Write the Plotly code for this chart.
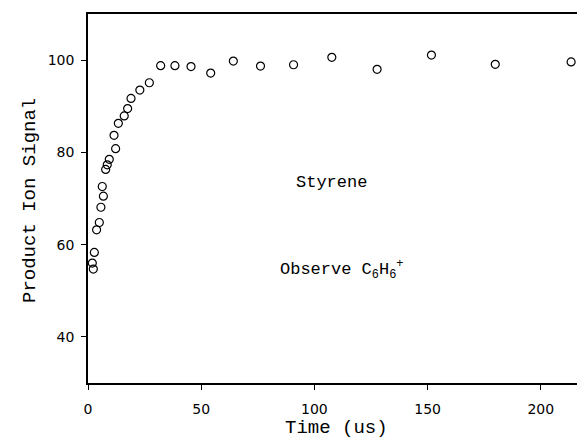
import plotly.graph_objects as go

time_us = [1.9, 2.35, 2.8, 3.8, 5.0, 5.7, 6.3, 6.8, 7.8, 8.5, 9.4, 11.5, 12.2, 13.4,
           16.0, 17.5, 19.0, 22.9, 27.1, 32.1, 38.4, 45.5, 54.2, 64.2, 76.2, 90.8,
           107.7, 127.7, 151.7, 179.9, 213.4]
signal = [56.0, 54.7, 58.3, 63.2, 64.8, 68.1, 72.6, 70.5, 76.3, 77.3, 78.5, 83.7, 80.8, 86.3,
          87.9, 89.5, 91.7, 93.5, 95.1, 98.8, 98.8, 98.6, 97.2, 99.8, 98.7, 99.0,
          100.6, 98.0, 101.1, 99.1, 99.6]

x_ticks = [0, 50, 100, 150, 200]
y_ticks = [40, 60, 80, 100]

L, R, T, B = 88, 0, 14, 57
W, H = 577, 440
plot_w = W - L - R
plot_h = H - T - B

def px_x(px):
    return (px - L) / plot_w

def px_y(py):
    return (H - B - py) / plot_h

fig = go.Figure()
fig.add_trace(go.Scatter(
    x=time_us, y=signal, mode="markers",
    marker=dict(symbol="circle-open", size=8, color="black", line=dict(width=1.2, color="black")),
    showlegend=False, cliponaxis=False,
))

tick_font = dict(family="DejaVu Sans", size=14, color="black")
title_font = dict(family="Liberation Mono", size=19, color="black")
label_font = dict(family="Liberation Mono", size=17, color="black")

fig.update_layout(
    width=W, height=H,
    margin=dict(l=L, r=R, t=T, b=B),
    paper_bgcolor="white", plot_bgcolor="white",
    xaxis=dict(range=[0, 216], tickvals=x_ticks, ticks="outside", ticklen=5, tickwidth=1,
               tickcolor="black", showline=True, linecolor="black", linewidth=1.5,
               mirror=True, showgrid=False, zeroline=False, tickfont=tick_font,
               ticklabelstandoff=7),
    yaxis=dict(range=[30, 110], tickvals=y_ticks, ticks="outside", ticklen=5, tickwidth=1,
               tickcolor="black", showline=True, linecolor="black", linewidth=1.5,
               showgrid=False, zeroline=False, tickfont=tick_font,
               ticklabelstandoff=4),
    annotations=[
        dict(text="Product Ion Signal", x=px_x(30), y=px_y(201), xref="paper", yref="paper",
             xanchor="center", yanchor="middle", textangle=-90, showarrow=False, font=title_font),
        dict(text="Time (us)", x=px_x(336), y=px_y(428), xref="paper", yref="paper",
             xanchor="center", yanchor="middle", showarrow=False, font=title_font),
        dict(text="Styrene", x=107.7, y=73.4, xref="x", yref="y",
             xanchor="center", yanchor="middle", showarrow=False, font=label_font),
        dict(text="Observe C<sub>6</sub>H<sub>6</sub><sup>+</sup>", x=112, y=54.5, xref="x", yref="y",
             xanchor="center", yanchor="middle", showarrow=False, font=label_font),
    ],
)

fig.write_html("out.html")
